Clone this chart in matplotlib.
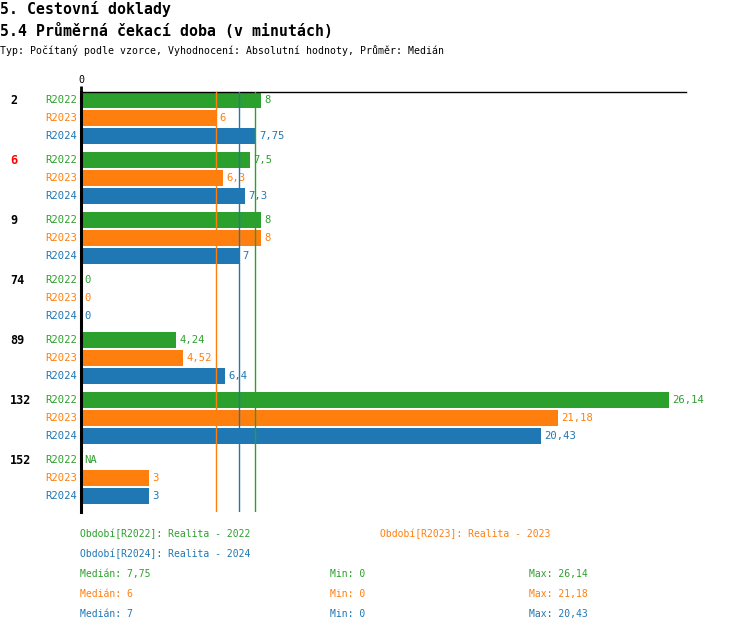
import matplotlib.pyplot as plt

# data
categories = ["2", "6", "9", "74", "89", "132", "152"]
series = ["R2022", "R2023", "R2024"]
colors = ["#2ca02c", "#ff7f0e", "#1f77b4"]
values_2022 = [8, 7.5, 8, 0, 4.24, 26.14, None]
values_2023 = [6, 6.3, 8, 0, 4.52, 21.18, 3]
values_2024 = [7.75, 7.3, 7, 0, 6.4, 20.43, 3]
medians = [7.75, 6, 7]
mins = [0, 0, 0]
maxs = [26.14, 21.18, 20.43]
legend_labels = ["Období[R2022]: Realita - 2022",
                 "Období[R2023]: Realita - 2023",
                 "Období[R2024]: Realita - 2024"]
highlight = {"6": "red"}

W, H = 750, 632
mono = "DejaVu Sans Mono"
plt.rcParams["font.family"] = [mono, "DejaVu Sans"]


def fmt(v):
    return f"{v:g}".replace(".", ",")


def px(x, y):
    # pixel coords -> figure fraction
    return x / W, 1 - y / H


fig = plt.figure(figsize=(W / 100, H / 100), dpi=100)

fig.text(*px(0, 9), "5. Cestovní doklady", fontsize=10.7, fontweight="bold",
         va="center", ha="left")
fig.text(*px(0, 31), "5.4 Průměrná čekací doba (v minutách)", fontsize=10.7,
         fontweight="bold", va="center", ha="left")
fig.text(*px(0, 51), "Typ: Počítaný podle vzorce, Vyhodnocení: Absolutní hodnoty, "
         "Průměr: Medián", fontsize=7.1, va="center", ha="left")

ax_l, ax_r, ax_t, ax_b = 81, 686, 92, 512
l, t = px(ax_l, ax_t)
r, b = px(ax_r, ax_b)
ax = fig.add_axes([l, b, r - l, t - b])

all_vals = [values_2022, values_2023, values_2024]
group_pitch = 3 + 1 / 3
bar_h = 15.5 / 18
fs = 7.6

for g, cat in enumerate(categories):
    y0 = g * group_pitch
    ax.text(-71 / 22.5, y0, cat, fontsize=8.5, fontweight="bold",
            color=highlight.get(cat, "black"), va="center", ha="left")
    for i, s in enumerate(series):
        y = y0 + i
        v = all_vals[i][g]
        ax.annotate(s, (0, y), xytext=(-2.5, 0), textcoords="offset points",
                    color=colors[i], fontsize=fs, va="center", ha="right")
        if v is None:
            ax.annotate("NA", (0, y), xytext=(2, 0), textcoords="offset points",
                        color=colors[i], fontsize=fs, va="center", ha="left")
            continue
        ax.barh(y, v, height=bar_h, color=colors[i], zorder=2)
        ax.annotate(fmt(v), (v, y), xytext=(2.5, 0), textcoords="offset points",
                    color=colors[i], fontsize=fs, va="center", ha="left")

for m, c in zip(medians, colors):
    ax.axvline(m, color=c, lw=1, zorder=3)

ax.set_xlim(0, (ax_r - ax_l) / 22.5)
ax.set_ylim(6 * group_pitch + 2 + 16 / 18, -8 / 18)
ax.set_yticks([])
ax.xaxis.tick_top()
ax.set_xticks([0])
ax.set_xticklabels(["0"], fontsize=7.2)
ax.tick_params(axis="x", length=4, width=2, pad=1, color="black")
for side in ["right", "bottom"]:
    ax.spines[side].set_visible(False)
ax.spines["top"].set_linewidth(1)
ax.spines["left"].set_linewidth(2.2)
ax.spines["left"].set_zorder(4)
ax.patch.set_visible(False)

# legend / stats block
lfs = 7
fig.text(*px(80, 534), legend_labels[0], color=colors[0], fontsize=lfs, va="center")
fig.text(*px(380, 534), legend_labels[1], color=colors[1], fontsize=lfs, va="center")
fig.text(*px(80, 554), legend_labels[2], color=colors[2], fontsize=lfs, va="center")
for i in range(3):
    y = 574 + 20 * i
    fig.text(*px(80, y), f"Medián: {fmt(medians[i])}", color=colors[i],
             fontsize=lfs, va="center")
    fig.text(*px(330, y), f"Min: {fmt(mins[i])}", color=colors[i],
             fontsize=lfs, va="center")
    fig.text(*px(529, y), f"Max: {fmt(maxs[i])}", color=colors[i],
             fontsize=lfs, va="center")

fig.savefig("out.png", dpi=100)
